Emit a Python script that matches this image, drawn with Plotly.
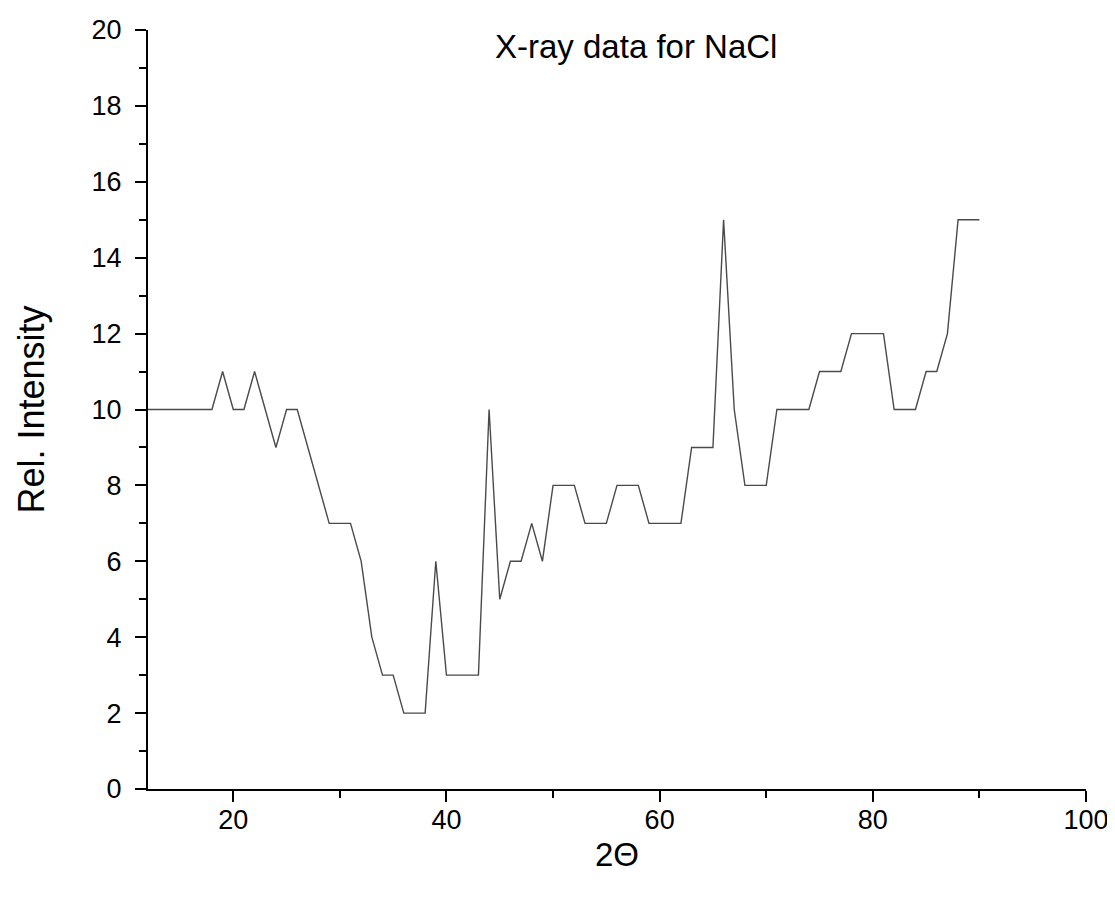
import plotly.graph_objects as go

two_theta = list(range(12, 91))
intensity = [
    10, 10, 10, 10, 10, 10, 10,   # 12-18
    11, 10, 10, 11, 10, 9, 10, 10,  # 19-26
    9, 8, 7, 7, 7, 6, 4, 3, 3,    # 27-35
    2, 2, 2, 6, 3, 3, 3, 3, 10,   # 36-44
    5, 6, 6, 7, 6, 8, 8, 8,       # 45-52
    7, 7, 7, 8, 8, 8, 7, 7, 7, 7, # 53-62
    9, 9, 9, 15, 10, 8, 8, 8,     # 63-70
    10, 10, 10, 10, 11, 11, 11,   # 71-77
    12, 12, 12, 12, 10, 10, 10,   # 78-84
    11, 11, 12, 15, 15, 15,       # 85-90
]

title_text = "X-ray data for NaCl"
x_title = "2Θ"
y_title = "Rel. Intensity"

fig = go.Figure()
fig.add_trace(go.Scatter(
    x=two_theta, y=intensity, mode="lines",
    line=dict(color="#4a4a4a", width=1.4),
    showlegend=False,
))

font_family = "Liberation Sans, Arial, sans-serif"

# page body has an 8px margin, so the figure is 8px smaller and offset
fig.update_layout(
    width=1107, height=894,
    margin=dict(l=140, r=29, t=22, b=113),
    paper_bgcolor="white", plot_bgcolor="white",
    font=dict(family=font_family, color="black"),
    annotations=[dict(
        text=title_text, x=0.52, y=0.978, xref="paper", yref="paper",
        xanchor="center", yanchor="middle", showarrow=False,
        font=dict(size=33, family=font_family, color="black"),
    )],
)

fig.update_xaxes(
    range=[12, 100], tick0=0, dtick=20, automargin=False,
    showgrid=False, zeroline=False,
    showline=True, linecolor="black", linewidth=2,
    ticks="outside", ticklen=11, tickwidth=2, tickcolor="black",
    ticklabelstandoff=-5, ticklabeloverflow="allow",
    tickfont=dict(size=27, family=font_family),
    minor=dict(dtick=10, tick0=0, ticks="outside", ticklen=7, tickwidth=2, tickcolor="black", showgrid=False),
    title=dict(text=x_title, font=dict(size=33, family=font_family), standoff=8),
)
fig.update_yaxes(
    range=[0, 20], tick0=0, dtick=2, automargin=False,
    showgrid=False, zeroline=False,
    showline=True, linecolor="black", linewidth=2,
    ticks="outside", ticklen=11, tickwidth=2, tickcolor="black",
    ticklabelstandoff=8, ticklabeloverflow="allow",
    tickfont=dict(size=27, family=font_family),
    minor=dict(dtick=1, tick0=0, ticks="outside", ticklen=7, tickwidth=2, tickcolor="black", showgrid=False),
    title=dict(text=y_title, font=dict(size=36, family=font_family), standoff=36),
)

fig.write_html("out.html")
